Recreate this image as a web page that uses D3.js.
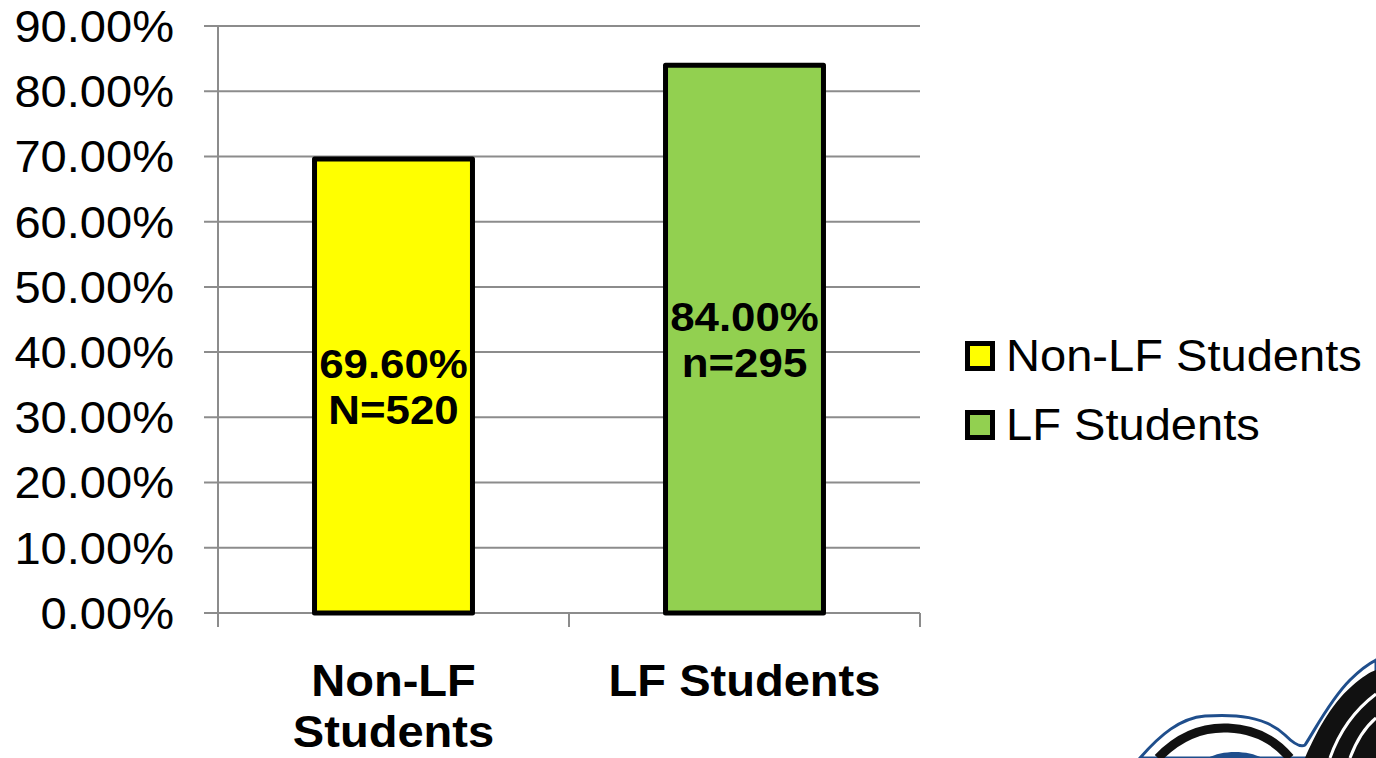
<!DOCTYPE html>
<html>
<head>
<meta charset="utf-8">
<script src="https://cdn.jsdelivr.net/npm/d3@7"></script>
<style>
  html, body { margin: 0; padding: 0; background: #fff; }
  svg { display: block; font-family: "Liberation Sans", Arial, sans-serif; }
</style>
</head>
<body>
<svg id="chart" width="1376" height="758"></svg>
<script>
// Share of students, by group
const categories = ["Non-LF Students", "LF Students"];
const values = [0.696, 0.84];
const counts = ["N=520", "n=295"];
const colors = ["#FFFF00", "#92D050"];
const axisLabels = [["Non-LF", "Students"], ["LF Students"]];
const yTicks = [0, 0.1, 0.2, 0.3, 0.4, 0.5, 0.6, 0.7, 0.8, 0.9];

const svg = d3.select("#chart");
const plot = { left: 218, right: 920, top: 26, bottom: 613 };
const sx = 1.07; // glyphs are slightly wider than tall

const x = d3.scaleBand().domain(categories).range([plot.left, plot.right]);
const y = d3.scaleLinear().domain([0, 0.9]).range([plot.bottom, plot.top]);
const pct = d3.format(".2%");
const gridColor = "#8c8c8c";

// horizontal gridlines with short ticks on the left
svg.append("g").selectAll("line").data(yTicks).join("line")
  .attr("x1", plot.left - 14).attr("x2", plot.right)
  .attr("y1", d => y(d)).attr("y2", d => y(d))
  .attr("stroke", gridColor).attr("stroke-width", 2);

// vertical axis line
svg.append("line")
  .attr("x1", plot.left).attr("x2", plot.left)
  .attr("y1", plot.top).attr("y2", plot.bottom + 14)
  .attr("stroke", gridColor).attr("stroke-width", 2);

// category separator ticks below the baseline
const sepX = [plot.left + x.step(), plot.right];
svg.append("g").selectAll("line").data(sepX).join("line")
  .attr("x1", d => d).attr("x2", d => d)
  .attr("y1", plot.bottom).attr("y2", plot.bottom + 14)
  .attr("stroke", gridColor).attr("stroke-width", 2);

// y tick labels
svg.append("g").selectAll("g").data(yTicks).join("g")
  .attr("transform", d => `translate(174,${y(d)}) scale(${sx},1)`)
  .append("text")
  .attr("text-anchor", "end").attr("dy", "0.36em")
  .attr("font-size", 44).attr("fill", "#000")
  .text(d => pct(d));

// bars
const barW = x.bandwidth() * 0.45;
const bars = categories.map((c, i) => ({ c, v: values[i], n: counts[i], col: colors[i] }));
svg.append("g").selectAll("rect").data(bars).join("rect")
  .attr("x", d => x(d.c) + (x.bandwidth() - barW) / 2)
  .attr("width", barW)
  .attr("y", d => y(d.v))
  .attr("height", d => y(0) - y(d.v))
  .attr("fill", d => d.col)
  .attr("stroke", "#000").attr("stroke-width", 5)
  .attr("stroke-linejoin", "round");

// value labels centred in each bar
const lab = svg.append("g").selectAll("g").data(bars).join("g")
  .attr("transform", d => `translate(${x(d.c) + x.bandwidth() / 2},${(y(d.v) + y(0)) / 2}) scale(${sx},1)`);
lab.append("text")
  .attr("text-anchor", "middle").attr("font-weight", "bold").attr("font-size", 41)
  .attr("y", -8).text(d => pct(d.v));
lab.append("text")
  .attr("text-anchor", "middle").attr("font-weight", "bold").attr("font-size", 41)
  .attr("y", 38).text(d => d.n);

// category labels
categories.forEach((c, i) => {
  const g = svg.append("g")
    .attr("transform", `translate(${x(c) + x.bandwidth() / 2},696) scale(${sx},1)`);
  axisLabels[i].forEach((line, k) => {
    g.append("text")
      .attr("text-anchor", "middle").attr("font-weight", "bold").attr("font-size", 44)
      .attr("y", k * 51).text(line);
  });
});

// legend
const leg = svg.append("g").selectAll("g").data(bars).join("g")
  .attr("transform", (d, i) => `translate(965,${341 + i * 69})`);
leg.append("rect")
  .attr("x", 2.5).attr("y", 2.5).attr("width", 25).attr("height", 25)
  .attr("fill", d => d.col).attr("stroke", "#000").attr("stroke-width", 5);
leg.append("g").attr("transform", `translate(41,30) scale(${sx},1)`)
  .append("text").attr("font-size", 44).attr("fill", "#000").text(d => d.c);

// corner emblem
const logo = svg.append("g");
logo.append("path")
  .attr("d", "M1140,758 C1160,735 1180,718 1205,716 C1235,714 1265,716 1285,735 C1292,742 1300,748 1305,745 C1315,730 1330,700 1350,680 C1362,668 1372,662 1376,660 L1376,758 Z")
  .attr("fill", "#fff").attr("stroke", "#1f4e8c").attr("stroke-width", 3);
logo.append("path")
  .attr("d", "M1158,758 C1180,735 1205,727 1228,728 C1255,729 1275,740 1290,758")
  .attr("fill", "none").attr("stroke", "#111").attr("stroke-width", 9);
logo.append("path")
  .attr("d", "M1208,758 C1222,750 1248,750 1262,758 Z")
  .attr("fill", "#1f4e8c");
logo.append("path")
  .attr("d", "M1305,758 C1315,735 1330,705 1352,686 C1362,677 1370,672 1376,670 L1376,758 Z")
  .attr("fill", "#111");
logo.append("path")
  .attr("d", "M1330,758 C1338,735 1352,712 1376,694")
  .attr("fill", "none").attr("stroke", "#fff").attr("stroke-width", 3);
logo.append("path")
  .attr("d", "M1350,758 C1356,742 1364,728 1376,718")
  .attr("fill", "none").attr("stroke", "#fff").attr("stroke-width", 3);
</script>
</body>
</html>
